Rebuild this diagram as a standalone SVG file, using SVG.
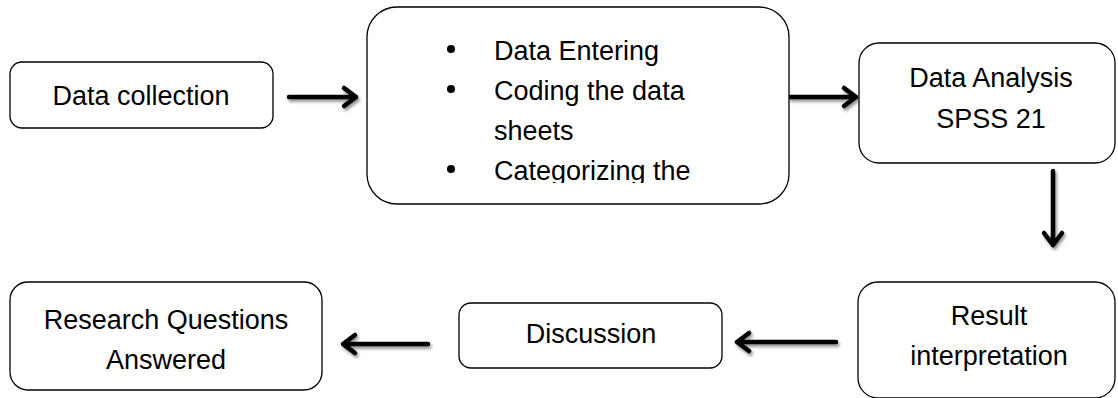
<svg xmlns="http://www.w3.org/2000/svg" width="1118" height="398" viewBox="0 0 1118 398">
<style>
.box{fill:#fff;stroke:#000;stroke-width:1.3}
.t{font-family:"Liberation Sans",Arial,sans-serif;font-size:27px;fill:#000}
.c{text-anchor:middle}
.arr{fill:none;stroke:#000;stroke-width:4.5;stroke-linecap:round;stroke-linejoin:round}
</style>
<defs>
<filter id="sh" x="-30%" y="-30%" width="160%" height="160%">
<feDropShadow dx="1.5" dy="2.5" stdDeviation="1.6" flood-color="#000" flood-opacity="0.45"/>
</filter>
<clipPath id="clipBig"><rect x="367" y="7" width="422" height="176"/></clipPath>
</defs>
<rect width="1118" height="398" fill="#fff"/>

<g id="connectors" filter="url(#sh)">
<path class="arr" d="M289 97 H356 M344 88 L356 97 L344 106"/>
<path class="arr" d="M790 97 H856 M844 88 L856 97 L844 106"/>
<path class="arr" d="M1053 171 V245 M1044 233 L1053 245 L1062 233"/>
<path class="arr" d="M836 342 H737 M749 333 L737 342 L749 351"/>
<path class="arr" d="M428 344 H343 M355 335 L343 344 L355 353"/>
</g>

<g id="node-data-collection">
<rect class="box" x="10" y="62" width="263" height="66" rx="12"/>
<text class="t c" x="141" y="105">Data collection</text>
</g>

<g id="node-processing">
<rect class="box" x="367" y="7" width="422" height="197" rx="30"/>
<g clip-path="url(#clipBig)">
<circle cx="451" cy="49" r="4"/>
<circle cx="451" cy="89" r="4"/>
<circle cx="451" cy="169" r="4"/>
<text class="t" x="494" y="60">Data Entering</text>
<text class="t" x="494" y="100">Coding the data</text>
<text class="t" x="494" y="140">sheets</text>
<text class="t" x="494" y="180">Categorizing the</text>
</g>
</g>

<g id="node-data-analysis">
<rect class="box" x="859" y="43" width="256" height="120" rx="20"/>
<text class="t c" x="991" y="87">Data Analysis</text>
<text class="t c" x="991" y="128">SPSS 21</text>
</g>

<g id="node-result">
<rect class="box" x="858" y="282" width="257" height="116" rx="20"/>
<text class="t c" x="989" y="325">Result</text>
<text class="t c" x="989" y="365">interpretation</text>
</g>

<g id="node-discussion">
<rect class="box" x="459" y="303" width="263" height="65" rx="12"/>
<text class="t c" x="591" y="343">Discussion</text>
</g>

<g id="node-research">
<rect class="box" x="10" y="282" width="312" height="108" rx="18"/>
<text class="t c" x="166" y="329">Research Questions</text>
<text class="t c" x="166" y="369">Answered</text>
</g>
</svg>
